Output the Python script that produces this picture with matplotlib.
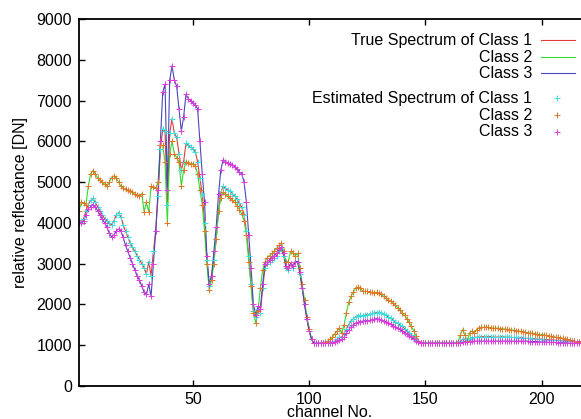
import numpy as np
import matplotlib
matplotlib.use("Agg")
import matplotlib.pyplot as plt
from matplotlib.lines import Line2D

plt.rcParams['font.family'] = ['Liberation Sans', 'DejaVu Sans']

# true spectra, one value per channel (1..217)
true1 = [4050, 4050, 4100, 4300, 4450, 4550, 4600, 4500, 4400, 4300,
         4200, 4100, 4050, 4000, 3950, 4050, 4200, 4250, 4150, 3950,
         3800, 3650, 3500, 3400, 3300, 3200, 3100, 3000, 2900, 2750,
         3050, 2700, 3300, 3800, 4650, 5800, 6300, 6250, 4450, 6200,
         6550, 6200, 6100, 5700, 5300, 5500, 5950, 5900, 5850, 5800,
         5750, 5500, 5100, 4700, 4000, 3100, 2450, 2700, 3100, 3600,
         4300, 4750, 4900, 4850, 4800, 4780, 4720, 4650, 4580, 4480,
         4380, 4200, 3800, 3200, 2500, 1850, 1700, 1900, 1800, 2400,
         2900, 3000, 3050, 3100, 3150, 3200, 3300, 3350, 3200, 2900,
         2850, 3000, 2900, 3050, 3050, 2750, 2400, 2000, 1650, 1350,
         1150, 1050, 1050, 1050, 1050, 1050, 1050, 1050, 1050, 1060,
         1100, 1150, 1200, 1200, 1300, 1400, 1500, 1600, 1650, 1700,
         1720, 1730, 1720, 1740, 1750, 1760, 1780, 1790, 1800, 1810,
         1790, 1760, 1730, 1700, 1660, 1620, 1580, 1540, 1500, 1460,
         1410, 1360, 1310, 1260, 1200, 1130, 1080, 1050, 1050, 1050,
         1050, 1050, 1050, 1050, 1050, 1050, 1050, 1050, 1050, 1050,
         1050, 1050, 1050, 1060, 1100, 1150, 1150, 1120, 1150, 1180,
         1190, 1200, 1200, 1210, 1210, 1200, 1210, 1210, 1200, 1200,
         1200, 1200, 1210, 1200, 1200, 1200, 1190, 1190, 1190, 1180,
         1180, 1180, 1170, 1170, 1170, 1160, 1160, 1150, 1150, 1150,
         1140, 1140, 1130, 1130, 1130, 1120, 1120, 1120, 1110, 1110,
         1110, 1100, 1100, 1100, 1090, 1090, 1080]

true2 = [4300, 4500, 4480, 4450, 4900, 5200, 5280, 5200, 5100, 5050,
         5000, 4950, 4900, 5000, 5100, 5150, 5100, 5000, 4900, 4850,
         4820, 4800, 4780, 4750, 4700, 4680, 4650, 4720, 4270, 4500,
         4270, 4900, 4880, 4850, 5000, 5900, 5900, 5500, 4000, 5700,
         6000, 5700, 5600, 5500, 4900, 5300, 5500, 5480, 5450, 5450,
         5400, 5200, 4800, 4450, 3800, 3000, 2350, 2600, 3000, 3600,
         4300, 4600, 4750, 4700, 4650, 4600, 4550, 4500, 4420, 4320,
         4220, 4050, 3700, 3050, 2450, 1800, 1550, 1850, 2400, 2850,
         3050, 3150, 3200, 3250, 3300, 3380, 3450, 3500, 3300, 3050,
         3050, 3300, 3250, 3200, 3250, 2900, 2500, 2100, 1700, 1400,
         1150, 1050, 1050, 1050, 1050, 1060, 1080, 1100, 1150, 1200,
         1280, 1350, 1420, 1300, 1500, 1800, 2050, 2200, 2300, 2400,
         2420, 2400, 2330, 2320, 2320, 2300, 2300, 2290, 2300, 2280,
         2250, 2200, 2150, 2120, 2080, 2030, 1980, 1920, 1860, 1800,
         1730, 1650, 1560, 1460, 1350, 1220, 1100, 1050, 1050, 1050,
         1050, 1050, 1050, 1050, 1050, 1050, 1050, 1050, 1050, 1050,
         1050, 1050, 1050, 1080, 1250, 1380, 1250, 1100, 1300, 1350,
         1300, 1380, 1420, 1440, 1440, 1450, 1440, 1430, 1420, 1420,
         1420, 1410, 1400, 1400, 1390, 1380, 1370, 1370, 1360, 1350,
         1340, 1330, 1320, 1310, 1300, 1290, 1280, 1270, 1260, 1260,
         1250, 1240, 1230, 1220, 1210, 1200, 1190, 1180, 1170, 1160,
         1150, 1130, 1110, 1100, 1080, 1070, 1050]

true3 = [4000, 4000, 4050, 4200, 4350, 4400, 4450, 4400, 4300, 4200,
         4100, 4000, 3900, 3750, 3650, 3700, 3800, 3850, 3800, 3650,
         3450, 3300, 3150, 3000, 2850, 2700, 2600, 2450, 2300, 2250,
         2500, 2200, 3000, 3800, 4800, 6000, 7200, 7400, 4800, 7500,
         7850, 7500, 7350, 6800, 6250, 6600, 7150, 7050, 7000, 6950,
         6900, 6800, 6000, 5200, 4500, 3200, 2500, 2700, 3300, 3900,
         4700, 5300, 5550, 5500, 5480, 5450, 5420, 5380, 5320, 5250,
         5200, 5000, 4500, 3700, 2900, 2000, 1750, 1950, 1900, 2500,
         3000, 3050, 3100, 3150, 3200, 3250, 3350, 3400, 3250, 2950,
         2900, 3000, 2950, 3050, 3050, 2800, 2400, 2000, 1650, 1350,
         1150, 1050, 1050, 1050, 1050, 1050, 1050, 1050, 1050, 1050,
         1080, 1100, 1120, 1150, 1200, 1300, 1380, 1450, 1500, 1540,
         1560, 1580, 1590, 1600, 1600, 1610, 1620, 1640, 1650, 1640,
         1620, 1600, 1570, 1540, 1510, 1480, 1450, 1420, 1390, 1350,
         1310, 1270, 1230, 1190, 1150, 1100, 1070, 1050, 1050, 1050,
         1050, 1050, 1050, 1050, 1050, 1050, 1050, 1050, 1050, 1050,
         1050, 1050, 1050, 1050, 1060, 1080, 1090, 1080, 1090, 1100,
         1100, 1100, 1100, 1100, 1100, 1100, 1100, 1100, 1100, 1100,
         1100, 1100, 1100, 1100, 1100, 1100, 1100, 1100, 1100, 1100,
         1100, 1100, 1100, 1100, 1090, 1090, 1090, 1090, 1080, 1080,
         1080, 1080, 1070, 1070, 1070, 1070, 1060, 1060, 1060, 1060,
         1060, 1050, 1050, 1050, 1050, 1050, 1050]

# estimated spectra sit on top of the true ones
est1 = list(true1)
est2 = list(true2)
est3 = list(true3)

channels = np.arange(1, len(true1) + 1)

fig = plt.figure(figsize=(5.81, 4.19), dpi=100)
ax = fig.add_axes([79/581, 1 - 386/419, 1 - 79/581, (386 - 19)/419])

ax.plot(channels, true1, color='#e03c3c', lw=0.8)
ax.plot(channels, true2, color='#30dd30', lw=0.8)
ax.plot(channels, true3, color='#4848b8', lw=0.8)
ax.plot(channels, est1, ls='none', marker='+', ms=5, mew=0.7, color='#3cdede')
ax.plot(channels, est2, ls='none', marker='+', ms=5, mew=0.7, color='#e07828')
ax.plot(channels, est3, ls='none', marker='+', ms=5, mew=0.7, color='#dd3cdd')

ax.set_xlim(1, 216.9)
ax.set_ylim(0, 9000)
ax.set_xticks([50, 100, 150, 200])
ax.set_yticks(np.arange(0, 9001, 1000))
ax.tick_params(direction='in', length=4.5, width=1, labelsize=11.5, top=True, pad=5)
ax.tick_params(axis='x', pad=4)
ax.spines['right'].set_visible(False)
for s in ['left', 'bottom', 'top']:
    ax.spines[s].set_linewidth(1.3)
ax.set_xlabel('channel No.', fontsize=11.5, labelpad=-1)
ax.set_ylabel('relative reflectance [DN]', fontsize=11.5, labelpad=6)

# legend drawn by hand, gnuplot style
labels = ['True Spectrum of Class 1', 'Class 2', 'Class 3',
          'Estimated Spectrum of Class 1', 'Class 2', 'Class 3']
ys = [40, 57, 73, 98, 115, 132]
cols = ['#e03c3c', '#30dd30', '#4848b8', '#3cdede', '#e07828', '#dd3cdd']
for i in range(6):
    yf = 1 - ys[i] / 419
    fig.text(532/581, yf, labels[i], ha='right', va='center', fontsize=11.5)
    if i < 3:
        fig.add_artist(Line2D([541/581, 575/581], [yf, yf], color=cols[i], lw=0.8))
    else:
        fig.add_artist(Line2D([557/581], [yf], ls='none', marker='+', ms=4,
                              mew=0.7, color=cols[i]))

fig.savefig('out.png', dpi=100)
